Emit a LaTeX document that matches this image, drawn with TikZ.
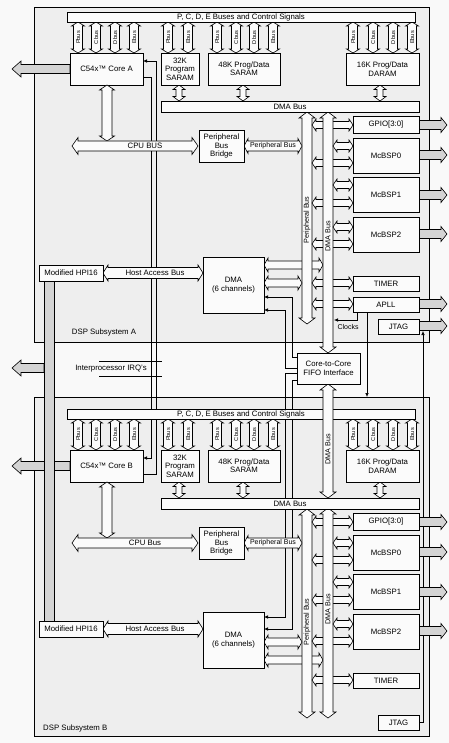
\documentclass[tikz,border=0pt]{standalone}
\usepackage{fontspec}
\setmainfont{Liberation Sans}
\usetikzlibrary{arrows.meta}
\pgfdeclarelayer{back}
\pgfdeclarelayer{wires}
\pgfsetlayers{back,wires,main}
\definecolor{outbg}{gray}{0.975}
\definecolor{inbg}{gray}{0.935}
\definecolor{boxbg}{gray}{0.985}
\definecolor{busfill}{gray}{0.985}
\definecolor{grayfill}{gray}{0.83}
% horizontal double-headed bus: xa, xb, y, half shaft, half head, head length, style
\newcommand\busH[7]{\draw[#7] ({#1},{#3}) -- ({#1+#6},{#3-#5}) -- ({#1+#6},{#3-#4}) -- ({#2-#6},{#3-#4}) -- ({#2-#6},{#3-#5}) -- ({#2},{#3}) -- ({#2-#6},{#3+#5}) -- ({#2-#6},{#3+#4}) -- ({#1+#6},{#3+#4}) -- ({#1+#6},{#3+#5}) -- cycle;}
% vertical double-headed bus: x, ya, yb, half shaft, half head, head length, style
\newcommand\busV[7]{\draw[#7] ({#1},{#2}) -- ({#1-#5},{#2+#6}) -- ({#1-#4},{#2+#6}) -- ({#1-#4},{#3-#6}) -- ({#1-#5},{#3-#6}) -- ({#1},{#3}) -- ({#1+#5},{#3-#6}) -- ({#1+#4},{#3-#6}) -- ({#1+#4},{#2+#6}) -- ({#1+#5},{#2+#6}) -- cycle;}
% single head at left end
\newcommand\busL[7]{\draw[#7] ({#1},{#3}) -- ({#1+#6},{#3-#5}) -- ({#1+#6},{#3-#4}) -- ({#2},{#3-#4}) -- ({#2},{#3+#4}) -- ({#1+#6},{#3+#4}) -- ({#1+#6},{#3+#5}) -- cycle;}
% single head at right end
\newcommand\busR[7]{\draw[#7] ({#2},{#3}) -- ({#2-#6},{#3-#5}) -- ({#2-#6},{#3-#4}) -- ({#1},{#3-#4}) -- ({#1},{#3+#4}) -- ({#2-#6},{#3+#4}) -- ({#2-#6},{#3+#5}) -- cycle;}
% box by corners: name, x1, y1, x2, y2, text
\newcommand\blk[6]{\node[box, minimum width={((#4)-(#2))*1pt}, minimum height={((#5)-(#3))*1pt}] (#1) at ({((#2)+(#4))/2},{((#3)+(#5))/2}) {#6};}
\tikzset{
  frame/.style={draw, line width=0.8pt, fill=inbg},
  box/.style={draw, line width=0.8pt, fill=boxbg, inner sep=0pt, outer sep=0pt, align=center, font=\fontsize{7.8}{8.4}\selectfont},
  bus/.style={draw, line width=0.6pt, fill=busfill},
  gbus/.style={draw, line width=0.6pt, fill=grayfill},
  wire/.style={line width=0.6pt},
  tip/.style={-{Latex[length=4pt,width=3.5pt]}},
  lab/.style={font=\fontsize{7.8}{8.5}\selectfont, inner sep=0pt},
  slab/.style={font=\fontsize{5.6}{6}\selectfont, inner sep=0pt, rotate=90},
  vlab/.style={font=\fontsize{7.2}{8}\selectfont, inner sep=0pt, rotate=90},
}
\begin{document}
\begin{tikzpicture}[x=1pt,y=-1pt]
\begin{pgfonlayer}{back}
\fill[outbg] (0,0) rectangle (449,743);
\draw[frame] (34,7) rectangle (429,342);
\draw[frame] (34,397) rectangle (429,736);
\end{pgfonlayer}
\useasboundingbox (0,0) rectangle (449,743);

% external gray buses on the left
\busL{12}{70}{69}{4.5}{8}{9}{gbus}
\busL{12}{70}{466}{4.5}{8}{9}{gbus}
\busL{12}{44}{368}{4.5}{8}{9}{gbus}
\draw[gbus] (44,281) rectangle (54,621);

% HPI and host access bus
\foreach \e/\S in {0/A,356/B} {
  \busH{103}{203}{273+\e}{5.5}{8}{5}{bus}
  \node[lab] at (155,{273+\e}) {Host Access Bus};
  \blk{hpi\S}{39}{265+\e}{103}{281+\e}{Modified HPI16}
}

% DMA controller to DMA bus (behind peripheral bus)
\busH{264}{323}{265}{4}{7}{4}{bus}
\busH{264}{323}{660}{4}{7}{4}{bus}

% peripheral buses and their links (behind DMA bus)
\foreach \d/\pb in {0/324,397/718} {
  \busV{307}{112+\d}{\pb}{5}{8}{6}{bus}
  \foreach \y in {125,163,203,244,283} {\busH{312}{353}{\y+\d}{3.5}{6}{4}{bus}}
}
\busH{312}{353}{304}{3.5}{6}{4}{bus}
\node[vlab] at (307,220) {Peripheral Bus};
\node[vlab] at (307,622) {Peripheral Bus};

% DMA controller to peripheral bus
\busH{264}{302}{283}{4}{7}{4}{bus}
\busH{264}{302}{642}{4}{7}{4}{bus}

% DMA buses (vertical)
\busV{328}{112}{353}{5}{8}{6}{bus}
\busV{328}{508}{718}{5}{8}{6}{bus}
\node[vlab] at (328,236) {DMA Bus};
\node[vlab] at (328,609) {DMA Bus};

\blk{dmaA}{203}{257}{264}{313}{DMA\\(6 channels)}
\blk{dmaB}{203}{612}{264}{668}{DMA\\(6 channels)}

% subsystems
\foreach \d/\S/\cpulab in {0/A/CPU BUS,397/B/CPU Bus} {
  \foreach \y in {146,185,227} {\busH{333}{353}{\y+\d}{3.5}{6}{4}{bus}}
  \foreach \y in {125,155,195,234} {\busR{419}{447}{\y+\d}{4.5}{7.5}{6}{gbus}}
  \blk{gpio\S}{353}{116+\d}{419}{133+\d}{GPIO[3:0]}
  \blk{mcbspz\S}{353}{138+\d}{419}{173+\d}{McBSP0}
  \blk{mcbspa\S}{353}{177+\d}{419}{212+\d}{McBSP1}
  \blk{mcbspb\S}{353}{217+\d}{419}{252+\d}{McBSP2}
  \blk{timer\S}{353}{276+\d}{419}{291+\d}{TIMER}
  \foreach \x/\t in {78/Pbus,96/Cbus,115/Dbus,134/Ebus,168/Pbus,188/Ebus,217/Pbus,236/Cbus,254/Dbus,273/Ebus,353/Pbus,373/Cbus,393/Dbus,412/Ebus} {
    \busV{\x}{22+\d}{53+\d}{4.5}{6.5}{4}{bus}
    \node[slab] at (\x,{37.5+\d}) {\t};
  }
  \foreach \x in {179,243,380} {\busV{\x}{85+\d}{101+\d}{3}{6}{4.5}{bus}}
  \blk{bar\S}{67}{12+\d}{415}{22+\d}{P, C, D, E Buses and Control Signals}
  \blk{core\S}{70}{53+\d}{143}{85+\d}{C54x™ Core \S}
  \blk{ramS\S}{161}{53+\d}{199}{85+\d}{32K\\Program\\SARAM}
  \blk{ramP\S}{208}{53+\d}{280}{85+\d}{48K Prog/Data\\SARAM}
  \blk{ramD\S}{346}{53+\d}{419}{85+\d}{16K Prog/Data\\DARAM}
  \blk{dmabar\S}{161}{101+\d}{419}{112+\d}{DMA Bus}
  \busV{107}{85+\d}{141+\d}{5}{7.5}{5}{bus}
  \busH{72}{198}{146+\d}{5}{8.5}{6}{bus}
  \node[lab] at (145,{146+\d}) {\cpulab};
  \busH{244}{302}{146+\d}{5}{7.5}{4}{bus}
  \node[lab, font=\fontsize{7}{8}\selectfont] at (273,{146+\d}) {Peripheral Bus};
  \blk{bridge\S}{199}{130+\d}{244}{162+\d}{Peripheral\\Bus\\Bridge}
}

% subsystem A only: APLL and JTAG
\busR{419}{447}{304}{4.5}{7.5}{6}{gbus}
\busR{419}{447}{326}{4.5}{7.5}{6}{gbus}
\blk{apll}{353}{297}{419}{312}{APLL}
\blk{jtagA}{378}{319}{419}{334}{JTAG}
\blk{jtagB}{378}{715}{419}{730}{JTAG}

% DMA bus between FIFO and subsystem B
\busV{328}{384}{498}{5}{8}{6}{bus}
\node[vlab] at (328,449) {DMA Bus};
\blk{fifo}{297}{353}{360}{384}{Core-to-Core\\FIFO Interface}

% texts
\node[lab] at (104,332) {DSP Subsystem A};
\node[lab, anchor=west] at (43,728) {DSP Subsystem B};
\node[lab] (irq) at (111,369) {Interprocessor IRQ's};
\draw[wire] (99,361) -- (162,361);
\draw[wire] (99,376) -- (162,376);
\node[lab, font=\fontsize{7}{8}\selectfont] (clktxt) at (348,327) {Clocks};

\coordinate (clk) at (334,320);
\coordinate (clkB) at (367,397);
\coordinate (jtagin) at (423,331);

\begin{pgfonlayer}{wires}
\draw[wire,tip] ([yshift=-8pt]coreA.east) -- ++(8,0) |- ([yshift=8pt]coreB.east);
\draw[wire,tip] ([yshift=-8pt]coreB.east) -- ++(13,0) |- ([yshift=8pt]coreA.east);
\draw[wire,tip] ([yshift=11.5pt]fifo.west) -- ++(-5,0) |- ([yshift=-12pt]dmaA.east);
\draw[wire,tip] (fifo.west) -- ++(-12,0) |- ([yshift=-25pt]dmaA.east);
\draw[wire,tip] ([yshift=-4.5pt]fifo.west) -- ++(-12,0) |- ([yshift=23pt]dmaB.east);
\draw[wire,tip] ([yshift=-11.5pt]fifo.west) -- ++(-5,0) |- ([yshift=11pt]dmaB.east);
\draw[wire,tip] ([xshift=-29pt]apll.south) |- (clk);
\draw[wire,tip] ([xshift=-19pt]apll.south) -- (clkB);
\draw[wire,tip] (jtagB.east) -| (jtagin);
\end{pgfonlayer}
\end{tikzpicture}
\end{document}
